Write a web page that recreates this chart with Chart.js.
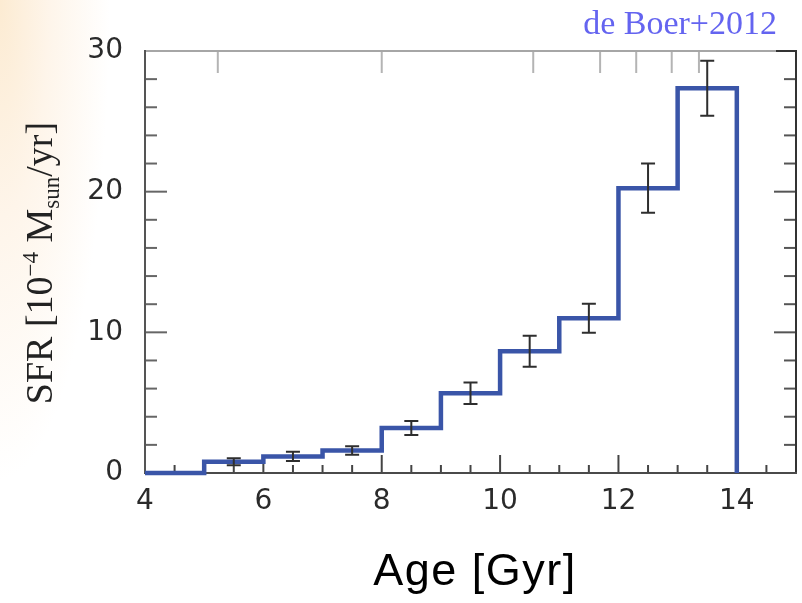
<!DOCTYPE html>
<html>
<head>
<meta charset="utf-8">
<script src="https://cdn.jsdelivr.net/npm/chart.js@4"></script>
<style>
  html, body { margin: 0; padding: 0; }
  body {
    width: 802px; height: 603px; overflow: hidden;
    background: radial-gradient(ellipse 110px 480px at 0 0, #fcebd2 0%, #fef5ea 45%, #ffffff 100%);
    background-color: #fff;
  }
  canvas { display: block; }
</style>
</head>
<body>
<canvas id="chart" width="802" height="603"></canvas>
<script>
// left edges of the age bins (Gyr) and the SFR in each bin
const binEdges = [4, 5, 6, 7, 8, 9, 10, 11, 12, 13, 14];
const sfr = [0, 0.8, 1.18, 1.6, 3.2, 5.67, 8.65, 11.0, 20.25, 27.35];

// error bars at bin centres
const errAge = [5.5, 6.5, 7.5, 8.5, 9.5, 10.5, 11.5, 12.5, 13.5];
const errSfr = [0.8, 1.18, 1.6, 3.2, 5.67, 8.65, 11.0, 20.25, 27.35];
const errSize = [0.25, 0.33, 0.3, 0.5, 0.77, 1.1, 1.03, 1.75, 1.95];

// unlabeled ticks of the top (redshift) axis, in age
const topTickAges = [5.23, 8.0, 10.56, 11.69, 12.3, 12.9, 13.36];

// step outline: each bin value runs to the next edge, then drops to 0 at 14
const stepPoints = binEdges.map((e, i) => ({ x: e, y: i < sfr.length ? sfr[i] : 0 }));

const axesPlugin = {
  id: 'axes',
  beforeDatasetsDraw(chart) {
    const { ctx, chartArea: a, scales: { x, y } } = chart;
    ctx.save();
    ctx.lineWidth = 2;
    ctx.lineCap = 'butt';
    const seg = (x1, y1, x2, y2, c) => {
      ctx.strokeStyle = c;
      ctx.beginPath(); ctx.moveTo(x1, y1); ctx.lineTo(x2, y2); ctx.stroke();
    };
    // y ticks, left and right
    for (let v = 0; v <= 30; v += 2) {
      const py = y.getPixelForValue(v);
      const len = v % 10 === 0 ? 22 : 12;
      seg(a.left, py, a.left + len, py, '#666');
      seg(a.right, py, a.right - len, py, '#555');
    }
    // bottom ticks
    for (let v = 4.5; v < 15; v += 0.5) {
      const px = x.getPixelForValue(v);
      const len = v % 2 === 0 ? 18 : 8;
      seg(px, a.bottom, px, a.bottom - len, '#444');
    }
    // top ticks
    topTickAges.forEach(t => {
      const px = x.getPixelForValue(t);
      seg(px, a.top, px, a.top + 22, '#b4b4b4');
    });
    // frame
    seg(a.left, a.top, a.right - 20, a.top, '#a6a6a6');
    seg(a.right - 20, a.top, a.right + 1, a.top, '#333');
    seg(a.right, a.top, a.right, a.bottom, '#333');
    seg(a.left - 1, a.bottom, a.right + 1, a.bottom, '#4a4a4a');
    seg(a.left, a.top - 1, a.left, a.bottom, '#555');
    ctx.restore();
  },
  afterDatasetsDraw(chart) {
    const { ctx, scales: { x, y } } = chart;
    ctx.save();
    ctx.strokeStyle = '#2e2e2e';
    ctx.lineWidth = 2;
    errAge.forEach((t, i) => {
      const px = x.getPixelForValue(t);
      const hi = y.getPixelForValue(errSfr[i] + errSize[i]);
      const lo = y.getPixelForValue(errSfr[i] - errSize[i]);
      ctx.beginPath();
      ctx.moveTo(px, hi); ctx.lineTo(px, lo);
      ctx.moveTo(px - 7, hi); ctx.lineTo(px + 7, hi);
      ctx.moveTo(px - 7, lo); ctx.lineTo(px + 7, lo);
      ctx.stroke();
    });
    ctx.restore();
  },
  afterDraw(chart) {
    const { ctx, chartArea: a } = chart;
    ctx.save();
    // x title
    ctx.fillStyle = '#000';
    ctx.font = '45px "Liberation Sans", Arial, sans-serif';
    ctx.letterSpacing = '1.5px';
    ctx.textAlign = 'center';
    ctx.textBaseline = 'alphabetic';
    ctx.fillText('Age [Gyr]', 475, 585);
    ctx.letterSpacing = '0px';

    // reference
    ctx.fillStyle = '#6464f0';
    ctx.font = '34px "Liberation Serif", "Times New Roman", serif';
    ctx.textAlign = 'right';
    ctx.fillText('de Boer+2012', 777, 34);

    // y title with super/subscript
    const big = '38px "Liberation Serif", "Times New Roman", serif';
    const small = '23px "Liberation Serif", "Times New Roman", serif';
    const parts = [
      { t: 'SFR [10', f: big, dy: 0 },
      { t: '\u22124', f: small, dy: -14 },
      { t: ' M', f: big, dy: 0 },
      { t: 'sun', f: small, dy: 7 },
      { t: '/yr]', f: big, dy: 0 }
    ];
    let total = 0;
    parts.forEach(p => { ctx.font = p.f; p.w = ctx.measureText(p.t).width; total += p.w; });
    ctx.translate(52, 263);
    ctx.rotate(-Math.PI / 2);
    ctx.fillStyle = '#222';
    ctx.textAlign = 'left';
    let cx = -total / 2;
    parts.forEach(p => { ctx.font = p.f; ctx.fillText(p.t, cx, p.dy); cx += p.w; });
    ctx.restore();
  }
};

const ctx = document.getElementById('chart').getContext('2d');
new Chart(ctx, {
  type: 'line',
  data: {
    datasets: [{
      data: stepPoints,
      stepped: 'before',
      borderColor: '#3a55a8',
      borderWidth: 4.5,
      borderJoinStyle: 'miter',
      pointRadius: 0,
      fill: false,
      clip: false
    }]
  },
  options: {
    responsive: false,
    animation: false,
    layout: { padding: { left: 0, top: 51, right: 6, bottom: 0 } },
    plugins: { legend: { display: false }, tooltip: { enabled: false } },
    scales: {
      x: {
        type: 'linear', min: 4, max: 15,
        grid: { display: false, drawTicks: false },
        border: { display: false },
        ticks: {
          stepSize: 2, padding: 12, color: '#2a2a2a', maxRotation: 0,
          font: { family: 'DejaVu Sans', size: 28 },
          callback: v => (v % 2 === 0 ? v : null)
        },
        afterFit: s => { s.height = 130; }
      },
      y: {
        min: 0, max: 30,
        grid: { display: false, drawTicks: false },
        border: { display: false },
        ticks: {
          stepSize: 10, padding: 22, color: '#2a2a2a',
          font: { family: 'DejaVu Sans', size: 28 }
        },
        afterFit: s => { s.width = 145; }
      }
    }
  },
  plugins: [axesPlugin]
});
</script>
</body>
</html>
